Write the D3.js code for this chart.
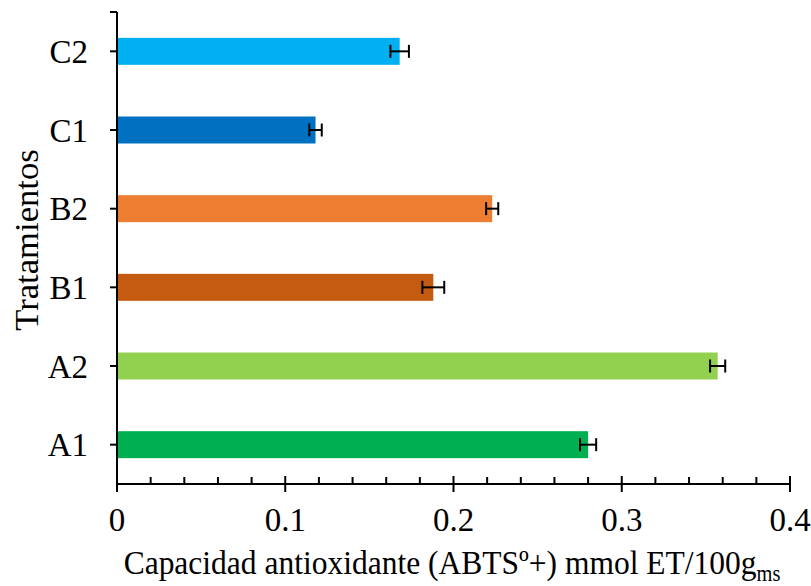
<!DOCTYPE html>
<html>
<head>
<meta charset="utf-8">
<script src="https://cdn.jsdelivr.net/npm/d3@7"></script>
<style>
  html, body { margin: 0; padding: 0; background: #fff; }
  svg { display: block; }
  text { font-family: "Liberation Serif", "Times New Roman", serif; fill: #000; }
</style>
</head>
<body>
<svg id="chart" width="811" height="586"></svg>
<script>
// Treatments, listed top to bottom
const categories = ["C2", "C1", "B2", "B1", "A2", "A1"];
// Antioxidant capacity (ABTS) mmol ET/100 g dry matter
const values = [0.168, 0.118, 0.223, 0.188, 0.357, 0.280];
// Standard deviation for each treatment
const errors = [0.0055, 0.0037, 0.0036, 0.0065, 0.0045, 0.0048];
const colors = ["#00B0F0", "#0070C0", "#ED7D31", "#C55A11", "#92D050", "#00B050"];
const xTicks = [0, 0.1, 0.2, 0.3, 0.4];
const xTickLabels = ["0", "0.1", "0.2", "0.3", "0.4"];

const svg = d3.select("#chart");
const plotLeft = 117, plotRight = 790, plotTop = 12, plotBottom = 484;
const fontSize = 33, titleSize = 31.5, vStretch = 1.05;

const x = d3.scaleLinear().domain([0, 0.4]).range([plotLeft, plotRight]);
const y = d3.scaleBand().domain(categories).range([plotTop, plotBottom])
  .paddingInner(0.657).paddingOuter(0.657 / 2);

// Bars
svg.append("g").selectAll("rect").data(categories).join("rect")
  .attr("x", x(0))
  .attr("y", d => y(d))
  .attr("width", (d, i) => x(values[i]) - x(0))
  .attr("height", y.bandwidth())
  .attr("fill", (d, i) => colors[i]);

// Error bars
const eb = svg.append("g").attr("stroke", "#000").attr("stroke-width", 2);
categories.forEach((c, i) => {
  const cy = y(c) + y.bandwidth() / 2;
  const x0 = x(values[i] - errors[i]), x1 = x(values[i] + errors[i]);
  eb.append("line").attr("x1", x0).attr("x2", x1).attr("y1", cy).attr("y2", cy);
  [x0, x1].forEach(xx => eb.append("line")
    .attr("x1", xx).attr("x2", xx).attr("y1", cy - 6.5).attr("y2", cy + 6.5));
});

// X axis with minor ticks every 0.02
const xa = svg.append("g").attr("stroke", "#000").attr("stroke-width", 2);
xa.append("line").attr("x1", x(0)).attr("x2", x(0.4)).attr("y1", plotBottom).attr("y2", plotBottom);
d3.range(0, 0.4001, 0.02).forEach(v => {
  const isMajor = Math.abs(v * 10 - Math.round(v * 10)) < 1e-6;
  if (!isMajor) {
    xa.append("line").attr("x1", x(v)).attr("x2", x(v))
      .attr("y1", plotBottom - 7).attr("y2", plotBottom);
  }
});
xTicks.forEach(v => {
  xa.append("line").attr("x1", x(v)).attr("x2", x(v))
    .attr("y1", plotBottom - 8).attr("y2", plotBottom + 8);
});
xTicks.forEach((v, i) => {
  svg.append("text")
    .attr("transform", `translate(${x(v)},531) scale(1,${vStretch})`)
    .attr("text-anchor", "middle")
    .attr("font-size", fontSize)
    .text(xTickLabels[i]);
});

// Y axis
const ya = svg.append("g").attr("stroke", "#000").attr("stroke-width", 2);
ya.append("line").attr("x1", plotLeft).attr("x2", plotLeft).attr("y1", plotTop).attr("y2", plotBottom);
ya.append("line").attr("x1", plotLeft - 7).attr("x2", plotLeft).attr("y1", plotTop).attr("y2", plotTop);
categories.forEach(c => {
  const cy = y(c) + y.bandwidth() / 2;
  ya.append("line").attr("x1", plotLeft - 7).attr("x2", plotLeft).attr("y1", cy).attr("y2", cy);
  svg.append("text")
    .attr("transform", `translate(88,${cy}) scale(1,${vStretch})`)
    .attr("text-anchor", "end")
    .attr("dy", "0.34em")
    .attr("font-size", fontSize)
    .text(c);
});

// Axis titles
const xt = svg.append("text")
  .attr("transform", `translate(452,574) scale(1,1.1)`)
  .attr("text-anchor", "middle")
  .attr("font-size", titleSize);
xt.append("tspan").text("Capacidad antioxidante (ABTSº+) mmol ET/100g");
xt.append("tspan").attr("font-size", titleSize * 0.65).attr("dy", 6).text("ms");

svg.append("text")
  .attr("transform", `translate(38,240) scale(1,${vStretch}) rotate(-90)`)
  .attr("text-anchor", "middle")
  .attr("font-size", fontSize)
  .text("Tratamientos");
</script>
</body>
</html>
